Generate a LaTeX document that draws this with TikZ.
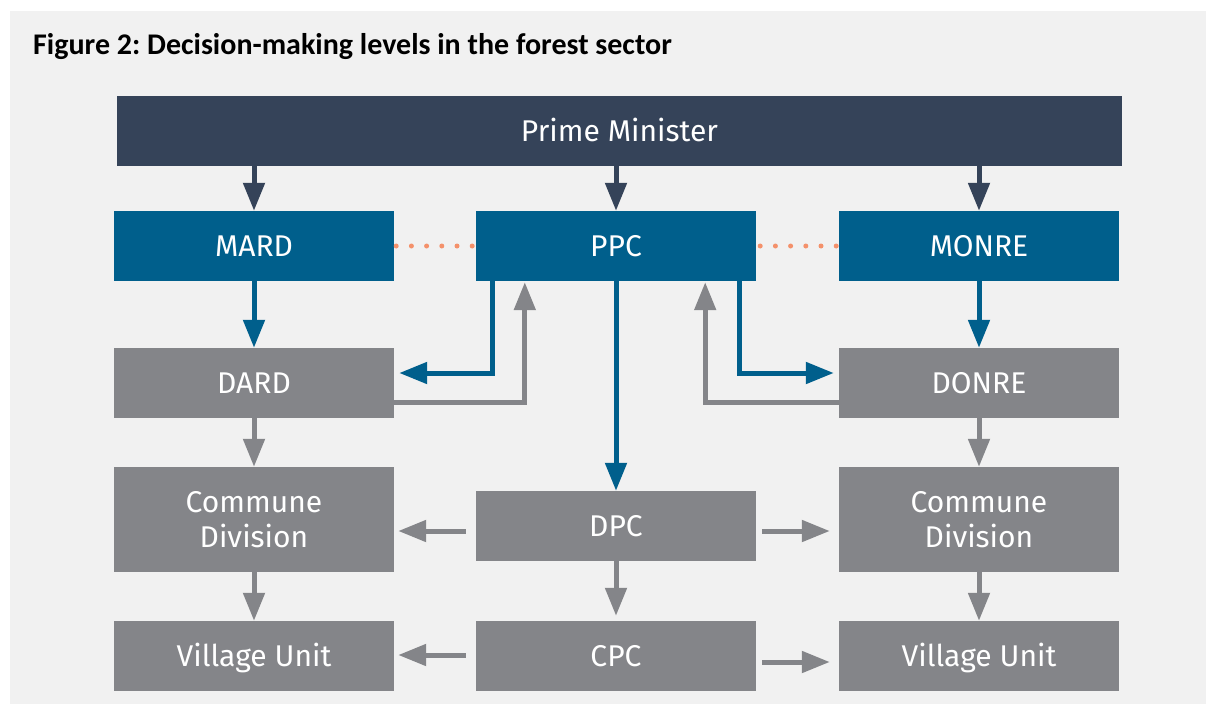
\documentclass[tikz,border=0pt]{standalone}
\usepackage{fontspec}
\setmainfont{Fira Sans}
\newfontfamily\titlefont{Carlito}
\usetikzlibrary{arrows.meta,calc}
\definecolor{navy}{HTML}{354359}
\definecolor{ublue}{HTML}{005F8C}
\definecolor{ugray}{HTML}{848589}
\definecolor{panel}{HTML}{F1F1F1}
\definecolor{dotc}{HTML}{F4916B}
\tikzset{
  box/.style={rectangle, inner sep=0pt, minimum width=280pt, minimum height=70pt,
    text=white, font=\fontsize{30}{35}\selectfont, text height=21pt, text depth=0pt, align=center},
  navybox/.style={box, fill=navy},
  bluebox/.style={box, fill=ublue},
  graybox/.style={box, fill=ugray},
  tallbox/.style={graybox, minimum height=105pt, text height=56pt, text depth=0pt},
  conn/.style={line width=5pt, -{Triangle[length=28pt,width=21pt]}},
  navyarrow/.style={conn, draw=navy},
  bluearrow/.style={conn, draw=ublue},
  grayarrow/.style={conn, draw=ugray},
  dotline/.style={draw=dotc, line width=5pt, line cap=round, dash pattern=on 0pt off 15.2pt}
}
\begin{document}
\frenchspacing
\begin{tikzpicture}[x=1pt,y=-1pt]
\fill[white] (0,0) rectangle (1206,704);
\fill[panel] (10,11) rectangle (1206,704);
\useasboundingbox (0,0) rectangle (1206,704);

\node[anchor=base west, font=\titlefont\bfseries\fontsize{30}{36}\selectfont, text=black, inner sep=0pt] (title) at (33,54) {Figure 2: Decision-making levels in the forest sector};

\node[navybox, minimum width=1005pt] (pm) at (619.5,131) {Prime Minister};
\node[bluebox] (mard) at (254,246) {MARD};
\node[bluebox] (ppc) at (616,246) {PPC};
\node[bluebox] (monre) at (979,246) {MONRE};
\node[graybox] (dard) at (254,383) {DARD};
\node[graybox] (donre) at (979,383) {DONRE};
\node[tallbox] (cdl) at (254,519.5) {Commune\\Division};
\node[tallbox] (cdr) at (979,519.5) {Commune\\Division};
\node[graybox] (dpc) at (616,526) {DPC};
\node[graybox] (vul) at (254,656) {Village Unit};
\node[graybox] (cpc) at (616,656) {CPC};
\node[graybox] (vur) at (979,656) {Village Unit};

% dotted links
\draw[dotline, shorten <=2pt] (mard.east) -- (ppc.west);
\draw[dotline, shorten <=4pt] (ppc.east) -- (monre.west);

% prime minister arrows
\draw[navyarrow] (pm.south -| mard.north) -- (mard.north);
\draw[navyarrow] (pm.south -| ppc.north) -- (ppc.north);
\draw[navyarrow] (pm.south -| monre.north) -- (monre.north);

% ministries to departments
\draw[bluearrow] (mard.south) -- (dard.north);
\draw[bluearrow] (monre.south) -- (donre.north);

% PPC links
\draw[bluearrow, shorten >=5pt] ([xshift=17pt]ppc.south west) |- ([yshift=10pt]dard.east);
\draw[grayarrow, shorten >=1pt] ([yshift=-19pt]dard.east) -| ([xshift=49pt]ppc.south west);
\draw[bluearrow, shorten >=5pt] ([xshift=-17pt]ppc.south east) |- ([yshift=10pt]donre.west);
\draw[grayarrow, shorten >=1pt] ([yshift=-19pt]donre.west) -| ([xshift=-51pt]ppc.south east);
\draw[bluearrow] (ppc.south) -- (dpc.north);

% down the columns
\draw[grayarrow] (dard.south) -- (cdl.north);
\draw[grayarrow] (donre.south) -- (cdr.north);
\draw[grayarrow] (cdl.south) -- (vul.north);
\draw[grayarrow] (cdr.south) -- (vur.north);
\draw[grayarrow, shorten >=5pt] (dpc.south) -- (cpc.north);

% sideways
\draw[grayarrow] ($(dpc.west)+(-10,5)$) -- ($(dpc.west -| cdl.east)+(4,5)$);
\draw[grayarrow] ($(dpc.east)+(6,5)$) -- ($(dpc.east -| cdr.west)+(-9,5)$);
\draw[grayarrow] ($(cpc.west)+(-10,-1)$) -- ($(cpc.west -| vul.east)+(4,-1)$);
\draw[grayarrow] ($(cpc.east)+(6,6)$) -- ($(cpc.east -| vur.west)+(-9,6)$);
\end{tikzpicture}
\end{document}
